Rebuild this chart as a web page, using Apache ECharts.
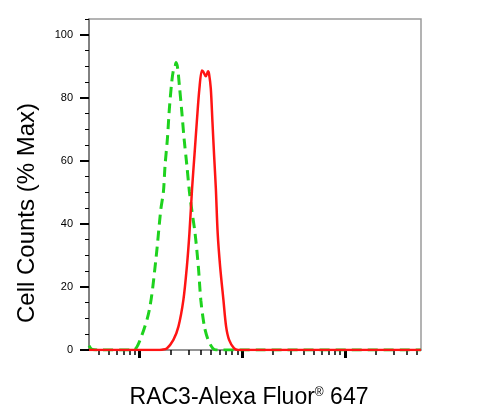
<!DOCTYPE html>
<html>
<head>
<meta charset="utf-8">
<script src="https://cdn.jsdelivr.net/npm/echarts@6/dist/echarts.min.js"></script>
<style>
  html, body { margin: 0; padding: 0; background: #fff; }
  #main { width: 487px; height: 417px; }
</style>
</head>
<body>
<div id="main"></div>
<script>
// fluorescence intensity on the x axis is in log10 units (decades)
var xMin = 2.51
var xMax = 5.74
var majorDecades = [3, 4, 5]
var minorMultipliers = [2, 3, 4, 5, 6, 7, 8, 9]

var yTicks = [0, 20, 40, 60, 80, 100]
var yMinorTicks = [5, 10, 15, 25, 30, 35, 45, 50, 55, 65, 70, 75, 85, 90, 95, 105]

// isotype control (green dashed)
var controlLog = [2.51, 2.54, 2.62, 2.94, 3.007, 3.097, 3.16, 3.208, 3.234, 3.25, 3.273, 3.292, 3.315, 3.331, 3.345, 3.357,
    3.372, 3.389, 3.413, 3.435, 3.462, 3.487, 3.51, 3.542, 3.574, 3.598, 3.633, 3.669, 3.715, 3.747, 4.2, 5.74]
var controlPct = [1.4, 0.2, 0, 0, 3.2, 12.7, 28.5, 44.4, 50.2, 58.6, 67.1, 76.6, 85.0, 88.7, 89.5, 91.2,
    89.5, 84.0, 75.5, 67.1, 58.6, 50.2, 44.4, 37.0, 26.4, 15.8, 7.4, 3.2, 0.5, 0, 0, 0]

// RAC3 stained sample (red)
var sampleLog = [2.51, 3.18, 3.218, 3.267, 3.331, 3.38, 3.428, 3.462, 3.487, 3.513, 3.536, 3.559, 3.584, 3.608, 3.62,
    3.647, 3.668, 3.678, 3.695, 3.711, 3.727, 3.744, 3.762, 3.786, 3.818, 3.844, 3.873, 3.922, 3.961, 5.74]
var samplePct = [0, 0, 0.1, 0.5, 3.2, 7.4, 15.8, 26.4, 37.0, 51.3, 61.8, 72.4, 82.9, 88.7, 88.4,
    86.8, 88.4, 87.6, 82.9, 72.4, 61.8, 51.3, 37.0, 26.4, 15.8, 7.4, 3.2, 0.5, 0, 0]

var majorTickValues = majorDecades.slice()
var minorTickValues = []
for (var d = 2; d <= 5; d++) {
    minorMultipliers.forEach(function (k) {
        var v = d + Math.log10(k)
        if (v >= xMin && v <= xMax) minorTickValues.push(v)
    })
}

function pairs(xs, ys) {
    return xs.map(function (x, i) { return [x, ys[i]] })
}

var chart = echarts.init(document.getElementById('main'), null, { renderer: 'canvas' })
var fontFamily = '"Liberation Sans", Arial, sans-serif'

var option = {
    backgroundColor: '#ffffff',
    animation: false,
    grid: {
        left: 89,
        right: 66,
        top: 19,
        bottom: 67,
        show: true,
        borderColor: '#9a9a9a',
        borderWidth: 1.5
    },
    xAxis: [{
        type: 'value',
        min: xMin,
        max: xMax,
        position: 'bottom',
        axisLine: { show: true, lineStyle: { color: '#8a8a8a', width: 1.5 } },
        axisTick: { show: true, customValues: minorTickValues, length: 5, lineStyle: { color: '#000', width: 1.5 } },
        axisLabel: { show: false },
        splitLine: { show: false }
    }, {
        type: 'value',
        min: xMin,
        max: xMax,
        position: 'bottom',
        axisLine: { show: false },
        axisTick: { show: true, customValues: majorTickValues, length: 8, lineStyle: { color: '#000', width: 3 } },
        axisLabel: { show: false },
        splitLine: { show: false }
    }],
    yAxis: [{
        type: 'value',
        min: 0,
        max: 105,
        position: 'left',
        axisLine: { show: true, lineStyle: { color: '#707070', width: 1.5 } },
        axisTick: { show: true, customValues: yTicks, length: 9, lineStyle: { color: '#000', width: 2 } },
        axisLabel: {
            show: true, customValues: yTicks, margin: 16,
            fontSize: 11, color: '#000', fontFamily: fontFamily
        },
        splitLine: { show: false }
    }, {
        type: 'value',
        min: 0,
        max: 105,
        position: 'left',
        axisLine: { show: false },
        axisTick: { show: true, customValues: yMinorTicks, length: 4, lineStyle: { color: '#000', width: 1 } },
        axisLabel: { show: false },
        splitLine: { show: false }
    }],
    graphic: [{
        type: 'text',
        x: 249,
        y: 398,
        style: {
            text: '{a|RAC3-Alexa Fluor}{r|®}{a| 647}',
            rich: {
                a: { fontSize: 23, fontFamily: fontFamily, fill: '#000' },
                r: { fontSize: 12, fontFamily: fontFamily, fill: '#000', verticalAlign: 'top' }
            },
            textAlign: 'center',
            textVerticalAlign: 'middle'
        }
    }, {
        type: 'text',
        x: 27,
        y: 213,
        rotation: Math.PI / 2,
        style: {
            text: 'Cell Counts (% Max)',
            fontSize: 24,
            fontFamily: fontFamily,
            fill: '#000',
            textAlign: 'center',
            textVerticalAlign: 'middle'
        }
    }],
    series: [{
        name: 'control',
        type: 'line',
        xAxisIndex: 0,
        yAxisIndex: 0,
        smooth: 0.3,
        showSymbol: false,
        data: pairs(controlLog, controlPct),
        lineStyle: { color: '#1ed21e', width: 3, type: [10, 6] },
        z: 2
    }, {
        name: 'RAC3',
        type: 'line',
        xAxisIndex: 0,
        yAxisIndex: 0,
        smooth: 0.3,
        showSymbol: false,
        data: pairs(sampleLog, samplePct),
        lineStyle: { color: '#ff1414', width: 2.5 },
        z: 3
    }]
}

chart.setOption(option)
</script>
</body>
</html>
